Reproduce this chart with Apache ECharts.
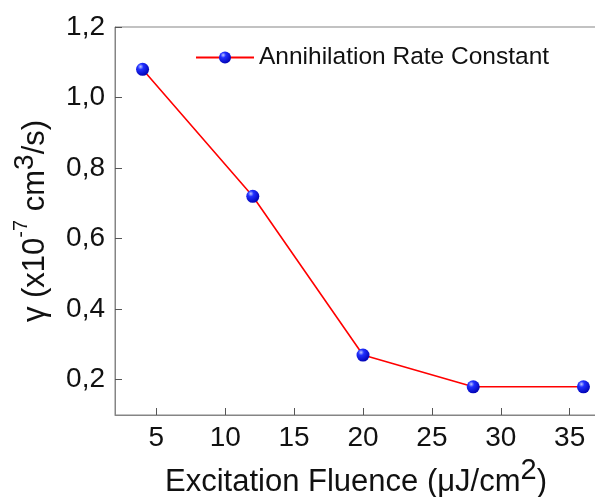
<!DOCTYPE html>
<html>
<head>
<meta charset="utf-8">
<script src="https://cdn.jsdelivr.net/npm/echarts@6/dist/echarts.min.js"></script>
<style>html,body{margin:0;padding:0;background:#fff;}#c{width:595px;height:497px;}</style>
</head>
<body>
<div id="c"></div>
<script>
const fluence = [4, 12, 20, 28, 36];
const gamma = [1.08, 0.72, 0.27, 0.18, 0.18];
const yTicks = [0.2, 0.4, 0.6, 0.8, 1.0, 1.2];
const xTicks = [5, 10, 15, 20, 25, 30, 35];
const seriesName = 'Annihilation Rate Constant';

const chart = echarts.init(document.getElementById('c'), null, {renderer: 'canvas'});
const font = 'Liberation Sans, Arial, sans-serif';
const sphere = new echarts.graphic.RadialGradient(0.35, 0.3, 0.75, [
  {offset: 0, color: '#bfc8ff'},
  {offset: 0.3, color: '#2030ff'},
  {offset: 1, color: '#0000b0'}
]);
chart.setOption({
  animation: false,
  backgroundColor: '#fff',
  grid: {left: 115, top: 27, width: 496, height: 388, outerBoundsMode: 'none', show: true, borderColor: '#858585', borderWidth: 1, containLabel: false},
  legend: {
    left: 190, top: 40, itemWidth: 58, itemHeight: 15, itemGap: 8,
    textStyle: {fontFamily: font, fontSize: 24.5, color: '#111'},
    data: [seriesName]
  },
  xAxis: {
    type: 'value', min: 2, max: 38,
    axisLine: {show: true, lineStyle: {color: '#858585', width: 1}},
    axisTick: {show: true, inside: true, length: 7, customValues: xTicks, lineStyle: {color: '#555'}},
    axisLabel: {customValues: xTicks, fontFamily: font, fontSize: 28, color: '#111', margin: 9},
    splitLine: {show: false},
    name: '{t|Excitation Fluence (μJ/cm}{s|2}{t|)}',
    nameLocation: 'middle', nameGap: 31,
    nameTextStyle: {padding: [0, 14, 0, 0], rich: {
      t: {fontFamily: font, fontSize: 31, color: '#111', verticalAlign: 'bottom'},
      s: {fontFamily: font, fontSize: 29, color: '#111', verticalAlign: 'top', padding: [0, 0, 12, 0]}
    }}
  },
  yAxis: {
    type: 'value', min: 0.1, max: 1.2,
    axisLine: {show: true, lineStyle: {color: '#858585', width: 1}},
    axisTick: {show: true, inside: true, length: 7, customValues: yTicks, lineStyle: {color: '#555'}},
    axisLabel: {customValues: yTicks, fontFamily: font, fontSize: 28, color: '#111', margin: 10,
      formatter: v => v.toFixed(1).replace('.', ',')},
    splitLine: {show: false},
    name: '{t|γ (x10}{m|-7}{t| cm}{s|3}{t|/s)}',
    nameLocation: 'middle', nameGap: 64, nameRotate: 90,
    nameTextStyle: {rich: {
      t: {fontFamily: font, fontSize: 31, color: '#111', verticalAlign: 'bottom'},
      m: {fontFamily: font, fontSize: 20, color: '#111', verticalAlign: 'top', padding: [0, 0, 18, 0]},
      s: {fontFamily: font, fontSize: 28, color: '#111', verticalAlign: 'top', padding: [0, 0, 12, 0]}
    }}
  },
  series: [{
    name: seriesName, type: 'line',
    data: fluence.map((x, i) => [x, gamma[i]]),
    lineStyle: {color: '#ff0000', width: 1.6},
    symbol: 'circle', symbolSize: 13,
    itemStyle: {color: sphere, borderWidth: 0},
    z: 3
  }]
});
</script>
</body>
</html>
